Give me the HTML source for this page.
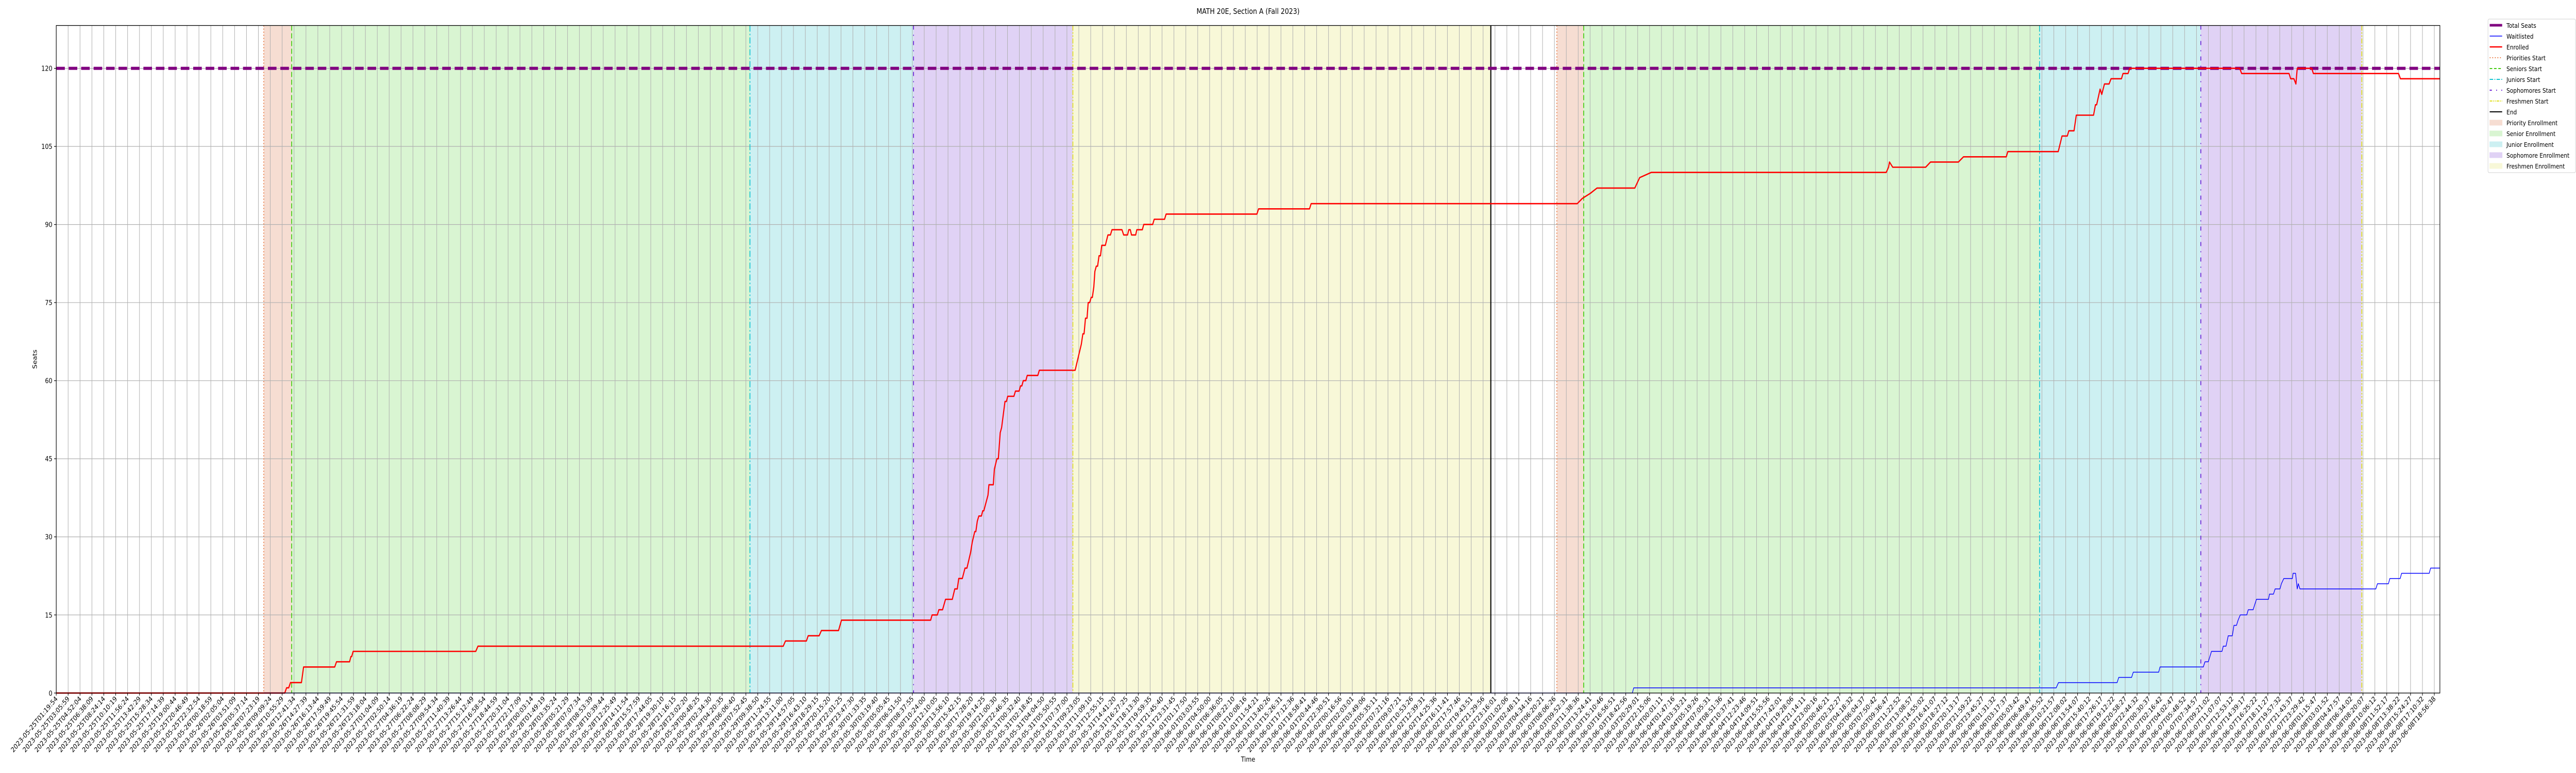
<!DOCTYPE html>
<html><head><meta charset="utf-8"><style>
html,body{margin:0;padding:0;background:#fff;overflow:hidden;width:100%;height:100%;}
svg{display:block;overflow:hidden;width:100vw;height:100vh;font-family:"DejaVu Sans","Liberation Sans",sans-serif;}
</style></head><body>
<svg id="chart" xmlns="http://www.w3.org/2000/svg" viewBox="0 0 6000 1500" preserveAspectRatio="none">
<rect x="0" y="0" width="6000" height="1500" fill="#fff"/>
<text x="2907" y="27" text-anchor="middle" font-size="15">MATH 20E, Section A (Fall 2023)</text>
<g id="plot"></g>
<text x="2907" y="1478" text-anchor="middle" font-size="13.5">Time</text>
<text transform="translate(86,697) rotate(-90)" text-anchor="middle" font-size="13.5">Seats</text>
<g id="legend"></g>
</svg>
<script>
// ---- data (x in tick-index units) ----
const totalSeats = 120;
const xStartLabel = "2023-05-25T01:19:54";
const xEndLabel = "2023-06-08T18:56:38";
const tickCount = 201;
const yTicks = [0,15,30,45,60,75,90,105,120];
const enrolledX = [0,19.22,19.37,19.55,19.70,20.62,20.80,23.42,23.57,24.67,24.78,24.85,24.97,35.28,35.47,61.14,61.33,63.09,63.24,64.16,64.35,65.79,66.04,73.54,73.66,74.10,74.23,74.54,74.79,75.36,75.57,75.78,75.90,76.20,76.43,76.59,76.90,77.04,77.25,77.34,77.46,77.59,77.81,77.92,78.01,78.36,78.44,78.81,78.90,79.11,79.23,79.39,79.51,79.62,79.79,79.91,80.02,80.54,80.67,80.98,81.10,81.21,81.33,81.54,81.66,82.55,82.68,85.69,86.21,86.34,86.44,86.56,86.69,86.79,86.91,87.04,87.14,87.26,87.35,87.47,87.58,87.70,87.82,87.93,88.23,88.45,88.66,88.79,89.63,89.77,90.10,90.20,90.33,90.43,90.78,90.88,91.34,91.46,92.21,92.34,93.21,93.34,100.98,101.12,105.4,105.54,127.92,128.34,129.03,129.58,132.76,133.17,134.14,153.90,154.10,154.18,154.45,157.22,157.63,159.98,160.40,164.0,164.13,168.37,168.69,169.13,169.26,169.70,169.89,171.34,171.50,171.60,171.89,172.03,172.26,172.65,172.81,173.69,173.82,174.24,174.38,183.63,183.80,187.78,187.92,188.19,188.36,188.47,189.69,189.83,196.99,197.15,200.47];
const enrolledY = [0,0,1,1,2,2,5,5,6,6,7,7,8,8,9,9,10,10,11,11,12,12,14,14,15,15,16,16,18,18,20,20,22,22,24,24,27,29,31,31,33,34,34,35,35,38,40,40,43,45,45,50,51,53,56,56,57,57,58,58,59,59,60,60,61,61,62,62,67,69,69,72,72,75,75,76,76,78,81,82,82,84,84,86,86,88,88,89,89,88,88,89,89,88,88,89,89,90,90,91,91,92,92,93,93,94,94,95,96,97,97,99,100,100,101,102,101,101,102,102,103,103,104,104,107,107,108,108,111,111,113,113,116,115,117,117,118,118,119,119,120,120,119,119,118,118,117,120,120,119,119,118,118];
const waitX = [17.45,132.55,132.67,168.2,168.39,173.32,173.46,174.54,174.68,176.82,176.93,180.57,180.71,180.99,181.26,182.14,182.25,182.48,182.67,183.01,183.15,183.36,183.50,183.68,184.23,184.35,184.76,185.04,186.05,186.14,186.47,186.61,187.02,187.14,187.34,188.06,188.12,188.33,188.47,188.56,188.70,195.08,195.22,196.14,196.26,197.13,197.25,199.57,199.69,200.47];
const waitY = [0,0,1,1,2,2,3,3,4,4,5,5,6,6,8,8,9,9,11,11,13,13,14,15,15,16,16,18,18,19,19,20,20,21,22,22,23,23,20,21,20,20,21,21,22,22,23,23,24,24];
const phaseStarts1 = [17.45,19.8,58.34,72.1,85.5];
const phaseEnd1 = 120.65;
const phaseStarts2 = [126.2,128.46,166.8,180.36,193.9];

// ---- layout ----
const L=131,R=5683,T=49.5,B=1344.8, TICK0=131, TICKSTEP=27.695;
const YMAX=(B-T)/((B-132.6)/120);
function xs(i){return TICK0+i*TICKSTEP;}
function ys(v){return B-(v/YMAX)*(B-T);}
const NS="http://www.w3.org/2000/svg";
const plot=document.getElementById('plot');
function el(tag,attrs,parent){const e=document.createElementNS(NS,tag);for(const k in attrs)e.setAttribute(k,attrs[k]);(parent||plot).appendChild(e);return e;}

const shadeCols=['#f6ddd2','#d9f5d2','#cdf0f2','#e0d2f5','#f8f8d8'];
const shadeNames=['priority-enrollment-shade','senior-enrollment-shade','junior-enrollment-shade','sophomore-enrollment-shade','freshmen-enrollment-shade'];
function shades(starts,end){
  for(let k=0;k<starts.length;k++){
    let a=starts[k], b=(k+1<starts.length)?starts[k+1]:end;
    if(b===undefined)continue;
    if(k===0) b=b+0.2;
    const r=el('rect',{x:xs(a),y:T,width:xs(b)-xs(a),height:B-T,fill:shadeCols[k]});
    
    
  }
}
shades(phaseStarts1,phaseEnd1);
shades(phaseStarts2,undefined);

// grid
for(let i=0;i<tickCount;i++){
  const g=el('line',{x1:xs(i),x2:xs(i),y1:T,y2:B,stroke:'#b0b0b0','stroke-width':1.2});
  
  
}
yTicks.forEach(v=>{
  const g=el('line',{x1:L,x2:R,y1:ys(v),y2:ys(v),stroke:'#b0b0b0','stroke-width':1.2});
  
  
});

// phase lines
const lineStyles=[
 {c:'#e8743b',d:'2,4',n:'priorities-start-line'},
 {c:'#44cc11',d:'10,5',n:'seniors-start-line'},
 {c:'#11c4d0',d:'12,4,3,4',n:'juniors-start-line'},
 {c:'#6a1fd6',d:'8,10,2,10',n:'sophomores-start-line'},
 {c:'#e0e020',d:'10,3,3,3,3,3',n:'freshmen-start-line'}];
function vlines(starts){
  starts.forEach((s,k)=>{
    const ln=el('line',{x1:xs(s),x2:xs(s),y1:T,y2:B,stroke:lineStyles[k].c,'stroke-width':2,'stroke-dasharray':lineStyles[k].d});
    
    
  });
}
vlines(phaseStarts1);vlines(phaseStarts2);
const endLine=el('line',{x1:xs(phaseEnd1),x2:xs(phaseEnd1),y1:T,y2:B,stroke:'#000','stroke-width':2.5});



// total seats
const seats=el('line',{x1:L,x2:R,y1:ys(totalSeats),y2:ys(totalSeats),stroke:'#800080','stroke-width':6,'stroke-dasharray':'20,9'});



function path(X,Y){return X.map((x,i)=>(i?'L':'M')+xs(x).toFixed(1)+','+ys(Y[i]).toFixed(1)).join('');}
const enr=el('path',{d:path(enrolledX,enrolledY),fill:'none',stroke:'#ff0000','stroke-width':2.6,'stroke-linejoin':'round'});


const wl=el('path',{d:path(waitX,waitY),fill:'none',stroke:'#0000ff','stroke-width':1.5,'stroke-linejoin':'round'});



// frame
const fr=el('rect',{x:L,y:T,width:R-L,height:B-T,fill:'none',stroke:'#000','stroke-width':1.3});



// ticks & labels
const t0=Date.parse(xStartLabel+'Z'), t1=Date.parse(xEndLabel+'Z');
function fmt(ms){return new Date(ms).toISOString().slice(0,19);}
for(let i=0;i<tickCount;i++){
  const x=xs(i);
  const tk=el('line',{x1:x,x2:x,y1:B,y2:B+5,stroke:'#000','stroke-width':1.2});
  
  
  const lab=fmt(t0+(t1-t0)*i/(tickCount-1));
  const tx=el('text',{transform:'translate('+(x+4)+','+(B+12)+') rotate(-45)','text-anchor':'end','font-size':13.5,fill:'#000'});
  tx.textContent=lab;
  
  
}
yTicks.forEach(v=>{
  const tk=el('line',{x1:L-5,x2:L,y1:ys(v),y2:ys(v),stroke:'#000','stroke-width':1.2});
  
  
  const tx=el('text',{x:L-9,y:ys(v)+5,'text-anchor':'end','font-size':13.5});
  tx.textContent=v;
  
  
});

// legend
const lg=document.getElementById('legend');
el('rect',{x:5795,y:37,width:204,height:298,rx:3,fill:'#fff',stroke:'#d0d0d0','stroke-width':1},lg);
const items=[
 ['Total Seats','line','#800080',5,''],
 ['Waitlisted','line','#0000ff',1.5,''],
 ['Enrolled','line','#ff0000',2.6,''],
 ['Priorities Start','line','#e8743b',2,'2,4'],
 ['Seniors Start','line','#44cc11',2,'6,4'],
 ['Juniors Start','line','#11c4d0',2,'8,3,2,3'],
 ['Sophomores Start','line','#6a1fd6',2,'5,10,2,10'],
 ['Freshmen Start','line','#e0e020',2,'6,2,2,2,2,2'],
 ['End','line','#000',2,''],
 ['Priority Enrollment','rect','#f6ddd2'],
 ['Senior Enrollment','rect','#d9f5d2'],
 ['Junior Enrollment','rect','#cdf0f2'],
 ['Sophomore Enrollment','rect','#e0d2f5'],
 ['Freshmen Enrollment','rect','#f8f8d8']];
items.forEach((it,k)=>{
  const cy=49+k*21;
  const g=el('g',{},lg);
  
  
  if(it[1]==='line'){
    el('line',{x1:5799,x2:5828,y1:cy,y2:cy,stroke:it[2],'stroke-width':it[3],'stroke-dasharray':it[4]},g);
  }else{
    el('rect',{x:5799,y:cy-5,width:29,height:10,fill:it[2],stroke:it[2]},g);
  }
  const t=el('text',{x:5838,y:cy+5,'font-size':12.8},g);
  t.textContent=it[0];
});
</script>
</body></html>
